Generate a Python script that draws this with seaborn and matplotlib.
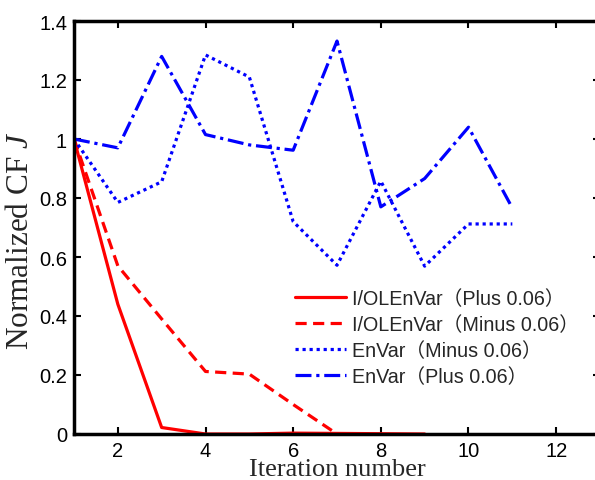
import pandas as pd
import matplotlib.pyplot as plt
import seaborn as sns
from matplotlib.ticker import FuncFormatter

# Values
iol_plus_x = [1, 2, 3, 4, 5, 6, 7, 8, 9]
iol_plus_y = [1.0, 0.44, 0.022, 0.0, 0.0, 0.003, 0.002, 0.001, 0.0]

iol_minus_x = [1, 2, 3, 4, 5, 6, 7]
iol_minus_y = [1.0, 0.57, 0.39, 0.212, 0.203, 0.10, 0.0]

envar_minus_x = [1, 2, 3, 4, 5, 6, 7, 8, 9, 10, 11]
envar_minus_y = [1.0, 0.785, 0.855, 1.285, 1.21, 0.72, 0.572, 0.857, 0.569, 0.712, 0.712]

envar_plus_x = [1, 2, 3, 4, 5, 6, 7, 8, 9, 10, 11]
envar_plus_y = [1.0, 0.97, 1.28, 1.015, 0.98, 0.962, 1.332, 0.77, 0.866, 1.04, 0.766]

labels = ['I/OLEnVar（Plus 0.06）', 'I/OLEnVar（Minus 0.06）',
          'EnVar（Minus 0.06）', 'EnVar（Plus 0.06）']

sns.set_style('ticks')
plt.rcParams['font.family'] = ['Liberation Sans', 'Noto Sans CJK SC']
plt.rcParams['mathtext.fontset'] = 'custom'
plt.rcParams['mathtext.it'] = 'Liberation Serif:italic'
plt.rcParams['mathtext.rm'] = 'Liberation Serif'

fig = plt.figure(figsize=(5.95, 4.81), dpi=100)
ax = fig.add_axes([74 / 595, 1 - 435 / 481, (600 - 74) / 595, (435 - 22) / 481])

series = [
    (iol_plus_x, iol_plus_y, labels[0], 'red', '-'),
    (iol_minus_x, iol_minus_y, labels[1], 'red', (0, (3.5, 2))),
    (envar_minus_x, envar_minus_y, labels[2], 'blue', (0, (1, 1.2))),
    (envar_plus_x, envar_plus_y, labels[3], 'blue', (0, (5, 1.5, 1, 1.5))),
]
for xs, ys, lab, col, ls in series:
    df = pd.DataFrame({'x': xs, 'y': ys})
    sns.lineplot(data=df, x='x', y='y', ax=ax, color=col, linestyle=ls,
                 linewidth=2.3, label=lab)

ax.set_xlim(1, 13)
ax.set_ylim(0, 1.4)
ax.set_xticks([2, 4, 6, 8, 10, 12])
ax.set_yticks([0, 0.2, 0.4, 0.6, 0.8, 1.0, 1.2, 1.4])
ax.yaxis.set_major_formatter(FuncFormatter(lambda v, p: f'{v:g}'))
ax.tick_params(direction='in', top=True, right=True, length=5, width=1.5,
               labelsize=14.5, colors='black', pad=5)
for sp in ax.spines.values():
    sp.set_linewidth(2.5)
    sp.set_color('black')

ax.set_xlabel('Iteration number', family='Liberation Serif', fontsize=19)
ax.set_ylabel('Normalized CF $J$', family='Liberation Serif', fontsize=22.5)
ax.xaxis.set_label_coords(0.5, -0.058)
ax.yaxis.set_label_coords(-0.074, 0.47)

ax.legend(loc='upper left', bbox_to_anchor=(0.405, 0.37), frameon=False,
          fontsize=14.2, handlelength=2.6, handletextpad=0.3, labelspacing=0.36,
          borderaxespad=0)

fig.savefig('out.png', dpi=100)
